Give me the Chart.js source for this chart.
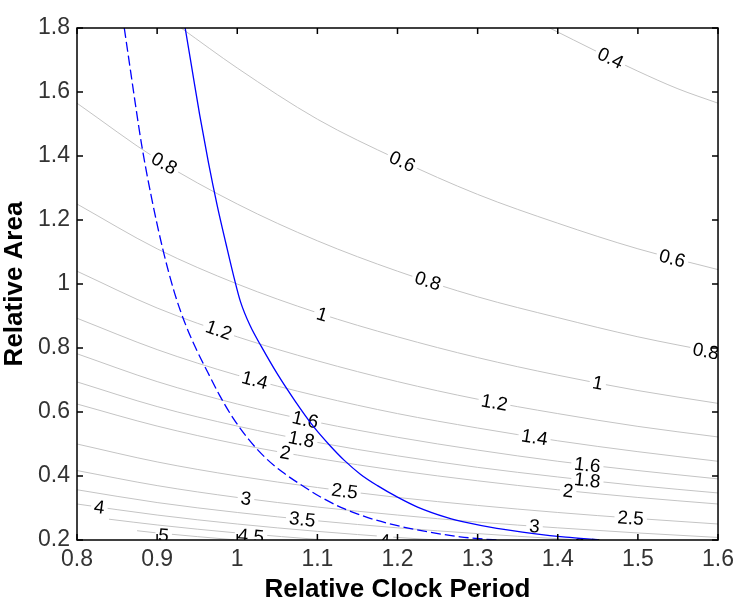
<!DOCTYPE html>
<html>
<head>
<meta charset="utf-8">
<script src="https://cdn.jsdelivr.net/npm/chart.js@4.4.0/dist/chart.umd.min.js"></script>
<style>
  html, body { margin: 0; padding: 0; background: #fff; }
</style>
</head>
<body>
<canvas id="chart" width="740" height="603"></canvas>
<script>
const xTicks = [0.8, 0.9, 1, 1.1, 1.2, 1.3, 1.4, 1.5, 1.6];
const yTicks = [0.2, 0.4, 0.6, 0.8, 1, 1.2, 1.4, 1.6, 1.8];

// gray contour levels and their traced points
const contourLevels = [0.4, 0.6, 0.8, 1, 1.2, 1.4, 1.6, 1.8, 2, 2.5, 3, 3.5, 4, 4.5, 5];
const contourX = [
  [1.39, 1.45, 1.5, 1.55, 1.6],
  [0.93, 1.0, 1.1, 1.2, 1.3, 1.4, 1.5, 1.6],
  [0.8, 0.9, 1.0, 1.1, 1.2, 1.3, 1.4, 1.5, 1.6],
  [0.8, 0.9, 1.0, 1.1, 1.2, 1.3, 1.4, 1.5, 1.6],
  [0.8, 0.9, 1.0, 1.1, 1.2, 1.3, 1.4, 1.5, 1.6],
  [0.8, 0.9, 1.0, 1.1, 1.2, 1.3, 1.4, 1.5, 1.6],
  [0.8, 0.9, 1.0, 1.1, 1.2, 1.3, 1.4, 1.5, 1.6],
  [0.8, 0.9, 1.0, 1.1, 1.2, 1.3, 1.4, 1.5, 1.6],
  [0.8, 0.9, 1.0, 1.1, 1.2, 1.3, 1.4, 1.5, 1.6],
  [0.8, 0.9, 1.0, 1.1, 1.2, 1.3, 1.4, 1.5, 1.6],
  [0.8, 0.9, 1.0, 1.1, 1.2, 1.3, 1.4, 1.5, 1.6],
  [0.8, 0.9, 1.0, 1.1, 1.2, 1.3, 1.4, 1.43],
  [0.8, 0.9, 1.0, 1.1, 1.2, 1.25],
  [0.84, 0.9, 1.0, 1.11],
  [0.875, 0.9, 1.0]
];
const contourY = [
  [1.8, 1.725, 1.665, 1.61, 1.565],
  [1.8, 1.675, 1.515, 1.39, 1.28, 1.19, 1.11, 1.045],
  [1.565, 1.39, 1.25, 1.135, 1.04, 0.96, 0.895, 0.835, 0.785],
  [1.25, 1.11, 1.0, 0.91, 0.835, 0.77, 0.715, 0.667, 0.627],
  [1.04, 0.925, 0.835, 0.76, 0.695, 0.64, 0.595, 0.555, 0.522],
  [0.893, 0.795, 0.715, 0.65, 0.595, 0.55, 0.51, 0.476, 0.446],
  [0.782, 0.695, 0.625, 0.568, 0.521, 0.481, 0.446, 0.417, 0.391],
  [0.694, 0.617, 0.556, 0.505, 0.463, 0.427, 0.397, 0.37, 0.347],
  [0.625, 0.556, 0.5, 0.455, 0.417, 0.385, 0.357, 0.333, 0.3125],
  [0.5, 0.444, 0.4, 0.364, 0.333, 0.308, 0.286, 0.267, 0.25],
  [0.417, 0.37, 0.333, 0.303, 0.278, 0.256, 0.238, 0.222, 0.208],
  [0.357, 0.317, 0.286, 0.26, 0.238, 0.22, 0.204, 0.2],
  [0.3125, 0.278, 0.25, 0.227, 0.208, 0.2],
  [0.265, 0.247, 0.222, 0.2],
  [0.229, 0.222, 0.2]
];

// inline contour labels
const labelText = ['0.4', '0.6', '0.6', '0.8', '0.8', '0.8', '1', '1', '1.2', '1.2', '1.4', '1.4',
  '1.6', '1.6', '1.8', '1.8', '2', '2', '2.5', '2.5', '3', '3', '3.5', '3.5', '4', '4', '4.5', '5'];
const labelX = [1.466, 1.206, 1.543, 0.909, 1.238, 1.585, 1.106, 1.45, 0.977, 1.321, 1.022, 1.371,
  1.085, 1.437, 1.08, 1.437, 1.06, 1.413, 1.134, 1.491, 1.011, 1.371, 1.081, 1.437, 0.828, 1.184, 1.017, 0.908];
const labelY = [1.706, 1.383, 1.08, 1.377, 1.01, 0.79, 0.905, 0.691, 0.856, 0.63, 0.70, 0.521,
  0.576, 0.435, 0.515, 0.387, 0.473, 0.354, 0.353, 0.269, 0.330, 0.243, 0.265, 0.183, 0.303, 0.197, 0.212, 0.215];

// blue curves
const solidX = [0.935, 0.943, 0.953, 0.964, 0.975, 0.986, 0.996, 1.004, 1.016, 1.03, 1.051, 1.072,
  1.095, 1.115, 1.134, 1.154, 1.175, 1.2, 1.225, 1.262, 1.287, 1.324, 1.37, 1.41, 1.45];
const solidY = [1.8, 1.68, 1.53, 1.38, 1.245, 1.125, 1.02, 0.945, 0.87, 0.805, 0.715, 0.635,
  0.555, 0.497, 0.448, 0.405, 0.37, 0.334, 0.303, 0.27, 0.254, 0.236, 0.22, 0.209, 0.201];
const dashX = [0.859, 0.866, 0.873, 0.881, 0.893, 0.907, 0.922, 0.936, 0.95, 0.963, 0.978, 0.994,
  1.014, 1.036, 1.056, 1.078, 1.105, 1.134, 1.163, 1.196, 1.237, 1.278, 1.307, 1.325];
const dashY = [1.8, 1.68, 1.56, 1.43, 1.27, 1.11, 0.97, 0.87, 0.79, 0.725, 0.652, 0.584,
  0.515, 0.455, 0.413, 0.375, 0.333, 0.297, 0.27, 0.247, 0.226, 0.21, 0.203, 0.2];

const pts = (xs, ys) => xs.map((v, i) => ({ x: v, y: ys[i] }));

const datasets = [
  { data: pts(solidX, solidY), borderColor: '#0000ff', borderWidth: 1.3 },
  { data: pts(dashX, dashY), borderColor: '#0000ff', borderWidth: 1.3, borderDash: [10, 4] }
];
contourLevels.forEach((lv, k) => {
  datasets.push({ data: pts(contourX[k], contourY[k]), borderColor: '#c4c4c4', borderWidth: 1 });
});
datasets.forEach(d => {
  d.showLine = true;
  d.pointRadius = 0;
  d.cubicInterpolationMode = 'monotone';
});

const contourLabels = {
  id: 'contourLabels',
  afterDatasetDraw(chart, args) {
    if (args.index !== 2) return;
    const { ctx, chartArea: a, scales: { x, y } } = chart;
    ctx.save();
    ctx.beginPath();
    ctx.rect(a.left, a.top, a.right - a.left, a.bottom - a.top);
    ctx.clip();
    ctx.font = '19px "Liberation Sans", Arial, sans-serif';
    ctx.textAlign = 'center';
    ctx.textBaseline = 'middle';
    labelText.forEach((t, i) => {
      const k = contourLevels.indexOf(parseFloat(t));
      const xs = contourX[k], ys = contourY[k];
      let j = 0;
      while (j < xs.length - 2 && xs[j + 1] < labelX[i]) j++;
      const ang = Math.atan2(
        y.getPixelForValue(ys[j + 1]) - y.getPixelForValue(ys[j]),
        x.getPixelForValue(xs[j + 1]) - x.getPixelForValue(xs[j]));
      const w = ctx.measureText(t).width;
      ctx.save();
      ctx.translate(x.getPixelForValue(labelX[i]), y.getPixelForValue(labelY[i]));
      ctx.rotate(ang);
      ctx.fillStyle = '#fff';
      ctx.fillRect(-w / 2 - 3, -6, w + 6, 12);
      ctx.fillStyle = '#000';
      ctx.fillText(t, 0, 1);
      ctx.restore();
    });
    ctx.restore();
  }
};

// matlab style box with inward ticks
const frame = {
  id: 'frame',
  afterDraw(chart) {
    const { ctx, chartArea: a, scales: { x, y } } = chart;
    ctx.save();
    ctx.strokeStyle = '#000';
    ctx.lineWidth = 1.5;
    ctx.strokeRect(a.left, a.top, a.right - a.left, a.bottom - a.top);
    ctx.beginPath();
    xTicks.forEach(v => {
      const p = x.getPixelForValue(v);
      ctx.moveTo(p, a.bottom); ctx.lineTo(p, a.bottom - 6);
      ctx.moveTo(p, a.top); ctx.lineTo(p, a.top + 6);
    });
    yTicks.forEach(v => {
      const p = y.getPixelForValue(v);
      ctx.moveTo(a.left, p); ctx.lineTo(a.left + 6, p);
      ctx.moveTo(a.right, p); ctx.lineTo(a.right - 6, p);
    });
    ctx.stroke();
    ctx.restore();
  }
};

const tickFont = { family: '"Liberation Sans", Arial, sans-serif', size: 23 };
const titleFont = { family: '"Liberation Sans", Arial, sans-serif', size: 26, weight: 'bold', lineHeight: 1 };

new Chart(document.getElementById('chart').getContext('2d'), {
  type: 'scatter',
  data: { datasets: datasets },
  options: {
    responsive: false,
    animation: false,
    devicePixelRatio: 1,
    layout: { padding: { top: 28, right: 17, left: 0, bottom: 0 } },
    plugins: { legend: { display: false }, tooltip: { enabled: false } },
    scales: {
      x: {
        type: 'linear', min: 0.8, max: 1.6,
        grid: { display: false, drawTicks: false },
        border: { display: false },
        afterBuildTicks: s => { s.ticks = xTicks.map(v => ({ value: v })); },
        afterFit: s => { s.height = 63; },
        ticks: { autoSkip: false, maxRotation: 0, padding: 6, color: '#333', font: tickFont, callback: v => String(v) },
        title: { display: true, text: 'Relative Clock Period', color: '#000', font: titleFont, padding: { top: 0, bottom: 0 } }
      },
      y: {
        type: 'linear', min: 0.2, max: 1.8,
        grid: { display: false, drawTicks: false },
        border: { display: false },
        afterBuildTicks: s => { s.ticks = yTicks.map(v => ({ value: v })); },
        afterFit: s => { s.width = 77; },
        ticks: { autoSkip: false, padding: 7, color: '#333', font: tickFont, callback: v => String(v) },
        title: { display: true, text: 'Relative Area', color: '#000', font: titleFont, padding: { top: 2, bottom: 0 } }
      }
    }
  },
  plugins: [contourLabels, frame]
});
</script>
</body>
</html>
